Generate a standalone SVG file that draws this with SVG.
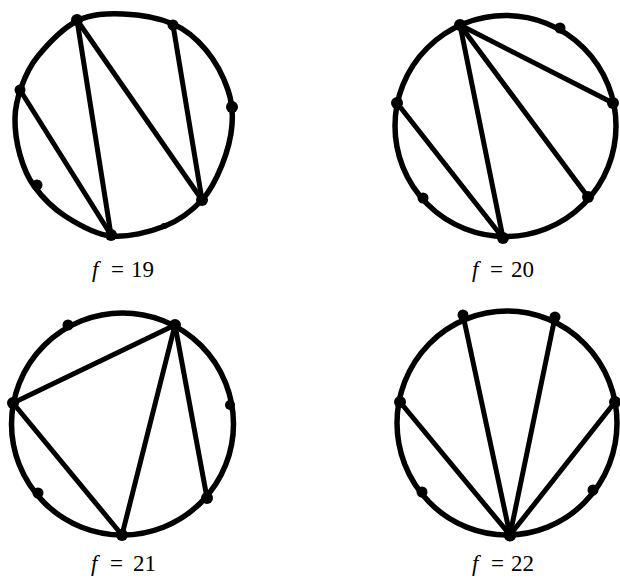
<svg xmlns="http://www.w3.org/2000/svg" width="620" height="578" viewBox="0 0 620 578">
<style>
.ring{fill:none;stroke:#000;stroke-width:5.5}
.chord{stroke:#000;stroke-width:5;stroke-linecap:round}
.dot{fill:#000}
.lbl{font-family:"Liberation Serif","Times New Roman",serif;font-size:23px;fill:#000}
.it{font-style:italic}
</style>
<rect width="620" height="578" fill="#fff"/>
<g id="graph19">
<path class="ring" d="M123,14 C139,14.5 159.2,18 173,24 C186.8,30 196.8,39 206,50 C215.2,61 223.7,77.5 228,90 C232.3,102.5 233,112.5 232,125 C231,137.5 227,152.5 222,165 C217,177.5 211.5,189.8 202,200 C192.5,210.2 180.2,220 165,226 C149.8,232 127.7,237.7 111,236 C94.3,234.3 77.8,224.3 65,216 C52.2,207.7 41.5,196.2 34,186 C26.5,175.8 23.2,166.3 20,155 C16.8,143.7 14.8,129.2 15,118 C15.2,106.8 17.5,98 21,88 C24.5,78 28.7,67.2 38,56 C47.3,44.8 62.5,28.3 77,21 C91.5,13.7 107,13.5 123,14 Z"/>
<g class="connectors">
<line class="chord" x1="77" y1="20" x2="111" y2="235"/>
<line class="chord" x1="77" y1="20" x2="202" y2="200"/>
<line class="chord" x1="173" y1="25" x2="202" y2="200"/>
<line class="chord" x1="20" y1="90" x2="111" y2="235"/>
</g>
<circle class="dot" cx="77" cy="20" r="6"/>
<circle class="dot" cx="173" cy="25" r="5.5"/>
<circle class="dot" cx="232" cy="107" r="6"/>
<circle class="dot" cx="20" cy="90" r="5.5"/>
<circle class="dot" cx="37" cy="185" r="5.5"/>
<circle class="dot" cx="111" cy="235" r="6"/>
<circle class="dot" cx="202" cy="200" r="6"/>
<circle class="dot" cx="164" cy="226" r="3"/>
<text class="lbl" y="277"><tspan class="it" x="92">f</tspan><tspan x="111">=</tspan><tspan x="131">19</tspan></text>
</g>
<g id="graph20">
<circle class="ring" cx="505.5" cy="126" r="110.5"/>
<g class="connectors">
<line class="chord" x1="460" y1="25" x2="613" y2="103"/>
<line class="chord" x1="460" y1="25" x2="588" y2="197"/>
<line class="chord" x1="460" y1="25" x2="503" y2="238"/>
<line class="chord" x1="397" y1="103" x2="503" y2="238"/>
</g>
<circle class="dot" cx="460" cy="25" r="6"/>
<circle class="dot" cx="560" cy="28" r="5.5"/>
<circle class="dot" cx="613" cy="103" r="6"/>
<circle class="dot" cx="397" cy="103" r="6"/>
<circle class="dot" cx="423" cy="198" r="5.5"/>
<circle class="dot" cx="503" cy="238" r="6"/>
<circle class="dot" cx="588" cy="197" r="6"/>
<text class="lbl" y="277"><tspan class="it" x="472">f</tspan><tspan x="490">=</tspan><tspan x="511">20</tspan></text>
</g>
<g id="graph21">
<circle class="ring" cx="122.5" cy="424" r="111"/>
<g class="connectors">
<line class="chord" x1="175" y1="325" x2="13" y2="403"/>
<line class="chord" x1="13" y1="403" x2="122" y2="535"/>
<line class="chord" x1="175" y1="325" x2="122" y2="535"/>
<line class="chord" x1="175" y1="325" x2="207" y2="498"/>
</g>
<circle class="dot" cx="68" cy="325" r="5.5"/>
<circle class="dot" cx="175" cy="325" r="6"/>
<circle class="dot" cx="230" cy="405" r="5"/>
<circle class="dot" cx="13" cy="403" r="6"/>
<circle class="dot" cx="38" cy="493" r="5.5"/>
<circle class="dot" cx="122" cy="535" r="6"/>
<circle class="dot" cx="207" cy="498" r="6"/>
<text class="lbl" y="571"><tspan class="it" x="91">f</tspan><tspan x="110">=</tspan><tspan x="133">21</tspan></text>
</g>
<g id="graph22">
<ellipse class="ring" cx="507" cy="423" rx="110" ry="112"/>
<g class="connectors">
<line class="chord" x1="510" y1="535" x2="463" y2="315"/>
<line class="chord" x1="510" y1="535" x2="555" y2="317"/>
<line class="chord" x1="510" y1="535" x2="615" y2="402"/>
<line class="chord" x1="510" y1="535" x2="400" y2="402"/>
</g>
<circle class="dot" cx="463" cy="315" r="5.5"/>
<circle class="dot" cx="555" cy="317" r="5.5"/>
<circle class="dot" cx="615" cy="402" r="6"/>
<circle class="dot" cx="400" cy="402" r="6"/>
<circle class="dot" cx="422" cy="492" r="5.5"/>
<circle class="dot" cx="510" cy="535" r="6.5"/>
<circle class="dot" cx="593" cy="490" r="5.5"/>
<text class="lbl" y="571"><tspan class="it" x="472">f</tspan><tspan x="491">=</tspan><tspan x="511">22</tspan></text>
</g>
</svg>
